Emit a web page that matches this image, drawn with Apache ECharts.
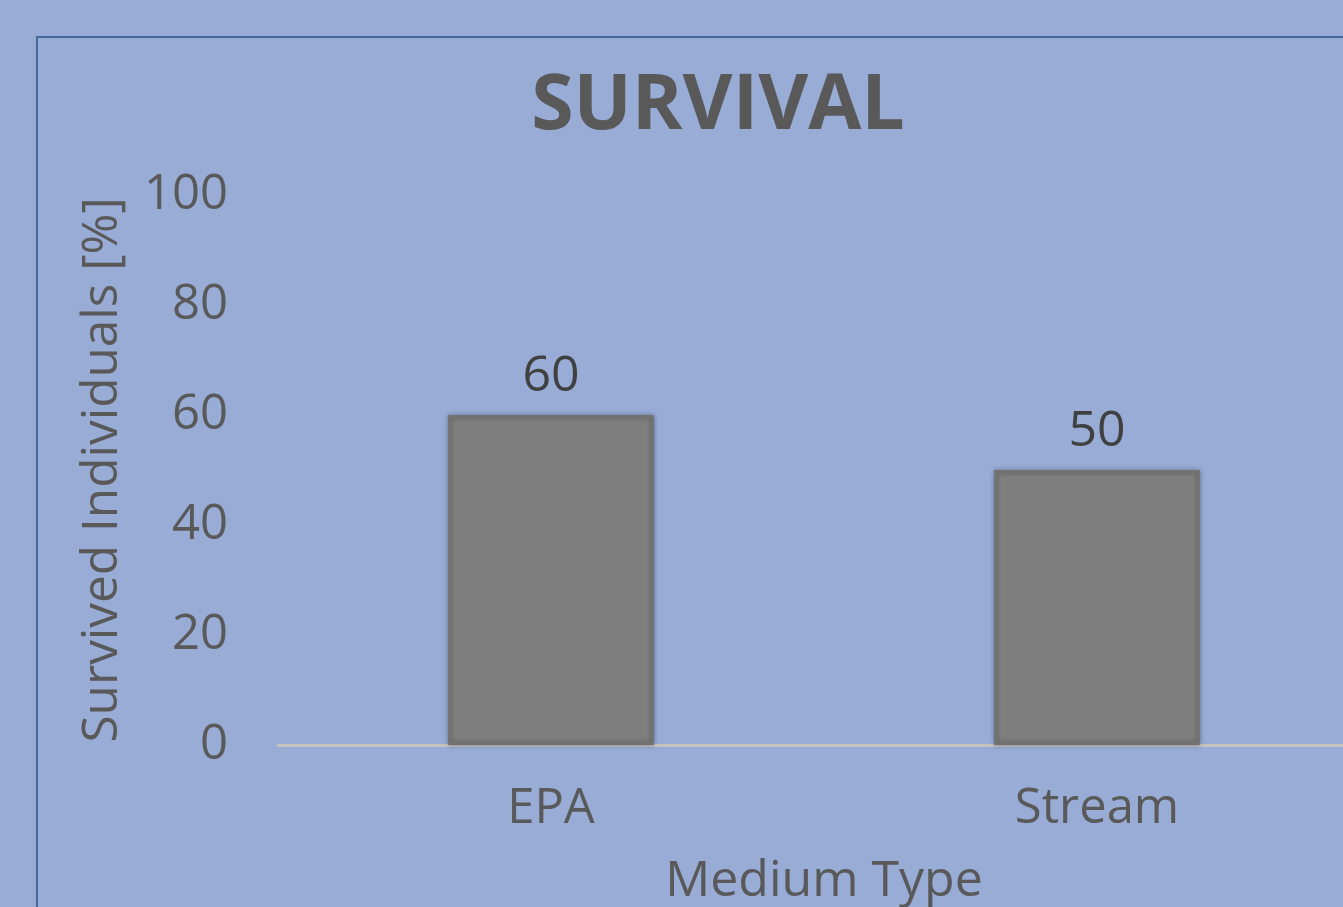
<!DOCTYPE html>
<html><head><meta charset="utf-8">
<script src="https://cdn.jsdelivr.net/npm/echarts@6/dist/echarts.min.js"></script>
<style>html,body{margin:0;padding:0;background:#98acd6;}#c{width:1343px;height:907px;}</style>
</head><body><div id="c"></div>
<script>
const categories = ['EPA', 'Stream'];
const survived = [60, 50];
const yTicks = [0, 20, 40, 60, 80, 100];

const chart = echarts.init(document.getElementById('c'));
chart.setOption({
  backgroundColor: '#98acd6',
  animation: false,
  textStyle: { fontFamily: 'Open Sans' },
  title: {
    text: 'SURVIVAL', left: 713, top: 64, textAlign: 'center',
    textStyle: { fontFamily: 'Open Sans', fontWeight: 'bold', fontSize: 77, color: '#595959' }
  },
  graphic: [{
    type: 'rect', shape: { x: 37, y: 37, width: 1400, height: 1000 },
    style: { fill: 'none', stroke: '#45699c', lineWidth: 2 }, silent: true, z: -1
  }],
  grid: { left: 278, top: 195, width: 1092, height: 550, outerBoundsMode: 'none', containLabel: false },
  xAxis: {
    type: 'category', data: categories,
    name: 'Medium Type', nameLocation: 'middle', nameGap: 112,
    nameTextStyle: { fontSize: 50, color: '#595959', fontFamily: 'Open Sans' },
    axisLine: { lineStyle: { color: '#c4c2be', width: 3 } },
    axisTick: { show: false },
    axisLabel: { fontSize: 49, color: '#595959', margin: 40, fontFamily: 'Open Sans' }
  },
  yAxis: {
    type: 'value', min: 0, max: 100, interval: 20,
    name: 'Survived Individuals [%]', nameLocation: 'middle', nameGap: 150, nameRotate: 90,
    nameTextStyle: { fontSize: 49.5, color: '#595959', fontFamily: 'Open Sans' },
    axisLine: { show: false }, axisTick: { show: false }, splitLine: { show: false },
    axisLabel: { fontSize: 49, color: '#595959', margin: 50, fontFamily: 'Open Sans',
      formatter: v => yTicks.includes(v) ? String(v) : '' }
  },
  series: [{
    type: 'bar', data: survived, barWidth: 206,
    itemStyle: { color: '#7f7f7f', borderColor: '#737373', borderWidth: 3, shadowBlur: 5, shadowColor: 'rgba(0,0,0,0.3)' },
    label: { show: true, position: 'top', distance: 13, fontSize: 50, color: '#404040', fontFamily: 'Open Sans' }
  }]
});
</script></body></html>
